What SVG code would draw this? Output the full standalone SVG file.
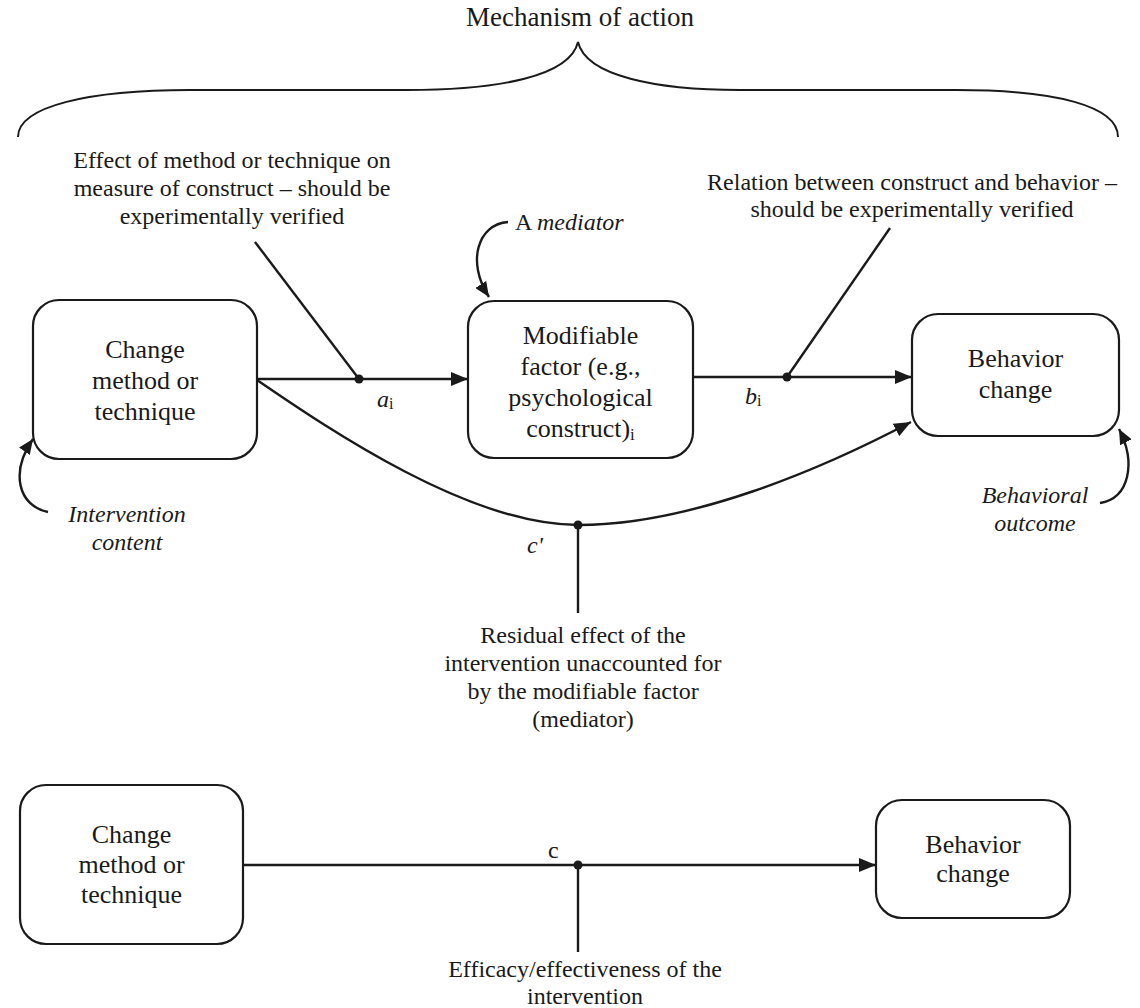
<svg xmlns="http://www.w3.org/2000/svg" width="1140" height="1008" viewBox="0 0 1140 1008" font-family="'Liberation Serif', 'DejaVu Serif', serif">
  <defs>
    <style>
      text { font-family: 'Liberation Serif', 'Times New Roman', Times, 'DejaVu Serif', serif; fill: #1a1a1a; }
      .node { font-size: 26px; text-anchor: middle; }
      .note { font-size: 24px; text-anchor: middle; }
      .title { font-size: 27px; text-anchor: middle; }
      .it { font-style: italic; }
      .box { fill: #ffffff; stroke: #1a1a1a; stroke-width: 2.2; }
      .wire { fill: none; stroke: #1a1a1a; stroke-width: 2.4; }
      .brace { fill: none; stroke: #1a1a1a; stroke-width: 2; }
      .dot { fill: #1a1a1a; }
    </style>
    <marker id="arrow" markerUnits="userSpaceOnUse" markerWidth="18" markerHeight="14" refX="17" refY="7" orient="auto">
      <path d="M0,0 L17,7 L0,14 z" fill="#1a1a1a"/>
    </marker>
    <marker id="arrowSmall" markerUnits="userSpaceOnUse" markerWidth="16" markerHeight="13" refX="15" refY="6.5" orient="auto">
      <path d="M0,0 L15,6.5 L0,13 z" fill="#1a1a1a"/>
    </marker>
  </defs>

  <!-- Brace spanning the mechanism of action -->
  <g id="mechanism">
    <text class="title" x="580" y="26">Mechanism of action</text>
    <path class="brace" d="M18,137 C18,106 90,90 190,90 L407,90 C500,90 570,76 578,42 C586,76 656,90 740,90 L956,90 C1056,90 1118,106 1118,137"/>
  </g>

  <!-- Connectors -->
  <g id="connectors">
    <!-- a_i path -->
    <line class="wire" x1="257" y1="379" x2="468" y2="379" marker-end="url(#arrow)"/>
    <line class="wire" x1="255" y1="242" x2="359" y2="379"/>
    <circle class="dot" cx="359" cy="379" r="4.5"/>
    <!-- b_i path -->
    <line class="wire" x1="693" y1="377" x2="912" y2="377" marker-end="url(#arrow)"/>
    <line class="wire" x1="890" y1="228" x2="787" y2="377"/>
    <circle class="dot" cx="787" cy="377" r="4.5"/>
    <!-- c' residual path -->
    <path class="wire" d="M257,380 C330,430 470,525 578,525 C690,525 820,470 911,422" marker-end="url(#arrow)"/>
    <line class="wire" x1="578" y1="525" x2="578" y2="613"/>
    <circle class="dot" cx="578" cy="525" r="4.5"/>
    <!-- pointer arrows for the italic callouts -->
    <path class="wire" d="M508,222 C478,224 466,262 489,297" marker-end="url(#arrowSmall)"/>
    <path class="wire" d="M48,512 C18,506 10,472 33,439" marker-end="url(#arrowSmall)"/>
    <path class="wire" d="M1100,503 C1130,498 1136,462 1119,429" marker-end="url(#arrowSmall)"/>
    <!-- c total effect path -->
    <line class="wire" x1="243" y1="865" x2="876" y2="865" marker-end="url(#arrow)"/>
    <line class="wire" x1="578" y1="865" x2="578" y2="952"/>
    <circle class="dot" cx="578" cy="865" r="4.5"/>
  </g>

  <!-- Path labels -->
  <g id="path-labels">
    <text x="377" y="407" font-size="24"><tspan class="it">a</tspan><tspan font-size="16" dy="2">i</tspan></text>
    <text x="745" y="404" font-size="24"><tspan class="it">b</tspan><tspan font-size="16" dy="2">i</tspan></text>
    <text x="527" y="553" font-size="24" class="it">c'</text>
    <text x="548" y="858" font-size="24">c</text>
  </g>

  <!-- Annotations -->
  <g id="note-effect">
    <text class="note" x="232" y="168">Effect of method or technique on</text>
    <text class="note" x="232" y="196">measure of construct – should be</text>
    <text class="note" x="232" y="224">experimentally verified</text>
  </g>
  <g id="note-relation">
    <text class="note" x="912" y="190">Relation between construct and behavior –</text>
    <text class="note" x="912" y="217">should be experimentally verified</text>
  </g>
  <g id="note-mediator">
    <text x="515" y="230" font-size="24">A <tspan class="it">mediator</tspan></text>
  </g>
  <g id="note-intervention">
    <text class="note it" x="127" y="522">Intervention</text>
    <text class="note it" x="127" y="550">content</text>
  </g>
  <g id="note-outcome">
    <text class="note it" x="1035" y="503">Behavioral</text>
    <text class="note it" x="1035" y="531">outcome</text>
  </g>
  <g id="note-residual">
    <text class="note" x="583" y="643">Residual effect of the</text>
    <text class="note" x="583" y="671">intervention unaccounted for</text>
    <text class="note" x="583" y="699">by the modifiable factor</text>
    <text class="note" x="583" y="727">(mediator)</text>
  </g>
  <g id="note-efficacy">
    <text class="note" x="585" y="977">Efficacy/effectiveness of the</text>
    <text class="note" x="585" y="1004">intervention</text>
  </g>

  <!-- Nodes: mediation model -->
  <g id="node-method">
    <rect class="box" x="33" y="300" width="224" height="159" rx="26"/>
    <text class="node" x="145" y="358">Change</text>
    <text class="node" x="145" y="389">method or</text>
    <text class="node" x="145" y="420">technique</text>
  </g>
  <g id="node-factor">
    <rect class="box" x="468" y="301" width="225" height="157" rx="26"/>
    <text class="node" x="580.5" y="344">Modifiable</text>
    <text class="node" x="580.5" y="375">factor (e.g.,</text>
    <text class="node" x="580.5" y="406">psychological</text>
    <text class="node" x="580.5" y="437">construct)<tspan font-size="17" dy="3">i</tspan></text>
  </g>
  <g id="node-behavior">
    <rect class="box" x="912" y="314" width="207" height="122" rx="26"/>
    <text class="node" x="1015.5" y="367">Behavior</text>
    <text class="node" x="1015.5" y="398">change</text>
  </g>

  <!-- Nodes: total effect model -->
  <g id="node-method-total">
    <rect class="box" x="20" y="785" width="223" height="159" rx="26"/>
    <text class="node" x="131.5" y="843">Change</text>
    <text class="node" x="131.5" y="873">method or</text>
    <text class="node" x="131.5" y="903">technique</text>
  </g>
  <g id="node-behavior-total">
    <rect class="box" x="876" y="800" width="194" height="118" rx="26"/>
    <text class="node" x="973" y="853">Behavior</text>
    <text class="node" x="973" y="882">change</text>
  </g>
</svg>
